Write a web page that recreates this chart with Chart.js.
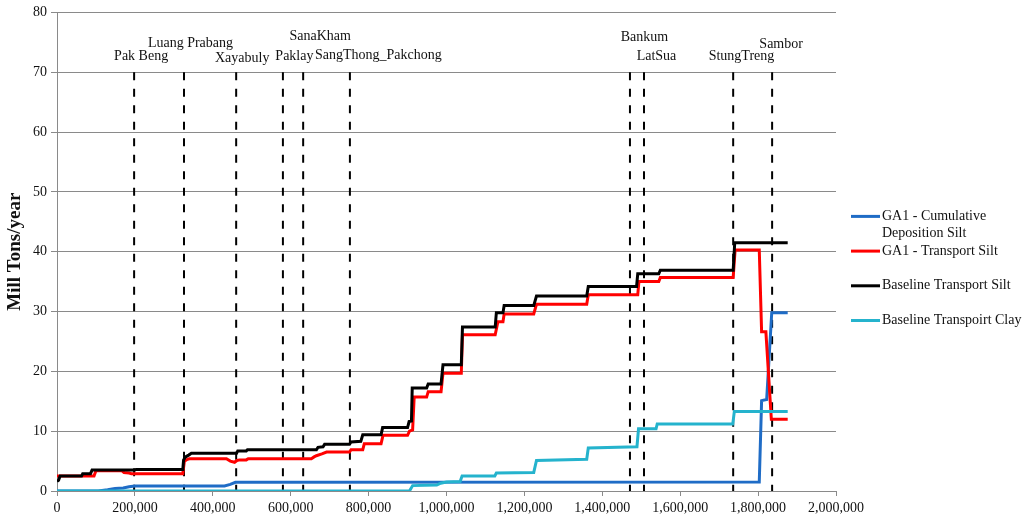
<!DOCTYPE html>
<html>
<head>
<meta charset="utf-8">
<title>Silt and clay transport along the river</title>
<script src="https://cdn.jsdelivr.net/npm/chart.js@4.4.1/dist/chart.umd.min.js"></script>
<style>
  html, body { margin: 0; padding: 0; background: #fff; }
  #wrap { width: 1026px; height: 520px; position: relative; }
</style>
</head>
<body>
<div id="wrap"><canvas id="transportChart"></canvas></div>
<script>
// distances are stored in thousands of axis units
const depositionDist = [0, 106, 130, 149, 170, 185, 200, 430, 445, 458, 1803, 1809, 1822, 1835, 1876];
const depositionVals = [0, 0, 0.2, 0.4, 0.5, 0.7, 0.85, 0.85, 1.1, 1.45, 1.5, 15.1, 15.3, 29.8, 29.8];

const ga1SiltDist = [0, 95, 100, 166, 172, 185, 191, 323, 327, 335, 340, 435, 445, 456, 462, 469, 486, 491, 653, 660,
    666, 680, 692, 751, 755, 785, 789, 832, 837, 900, 905, 913, 917, 949, 953, 986, 991, 1038, 1041, 1125,
    1132, 1145, 1148, 1224, 1231, 1360, 1364, 1491, 1494, 1545, 1549, 1736, 1741, 1803, 1809, 1820, 1834, 1876];
const ga1SiltVals = [2.5, 2.5, 3.4, 3.4, 3.1, 3.0, 2.9, 2.9, 5.0, 5.3, 5.4, 5.4, 5.0, 4.8, 5.1, 5.2, 5.2, 5.4, 5.4, 5.7,
    5.9, 6.2, 6.5, 6.5, 6.9, 6.9, 7.9, 7.9, 9.3, 9.3, 10.0, 10.2, 15.7, 15.7, 16.6, 16.6, 19.7, 19.7, 26.1, 26.1,
    28.3, 28.3, 29.6, 29.6, 31.2, 31.2, 32.8, 32.8, 35.0, 35.0, 35.7, 35.7, 40.3, 40.3, 26.6, 26.6, 12.0, 12.0];

const baseSiltDist = [0, 4, 8, 63, 66, 86, 90, 200, 203, 323, 325, 330, 338, 345, 461, 464, 486, 489, 666, 670,
    683, 687, 751, 755, 780, 785, 832, 836, 900, 904, 910, 912, 949, 953, 986, 991, 1038, 1041, 1125, 1128,
    1145, 1148, 1224, 1231, 1360, 1364, 1488, 1491, 1545, 1549, 1736, 1740, 1876];
const baseSiltVals = [1.6, 1.8, 2.5, 2.5, 2.9, 2.9, 3.5, 3.5, 3.6, 3.6, 5.2, 5.7, 6.0, 6.3, 6.3, 6.7, 6.7, 6.9, 6.9, 7.3,
    7.4, 7.8, 7.8, 8.2, 8.3, 9.4, 9.4, 10.6, 10.6, 11.6, 11.7, 17.2, 17.2, 17.9, 17.9, 21.1, 21.1, 27.4, 27.4, 29.8,
    29.8, 31.0, 31.0, 32.6, 32.6, 34.2, 34.2, 36.3, 36.3, 36.9, 36.9, 41.5, 41.5];

const baseClayDist = [0, 905, 913, 975, 985, 1000, 1035, 1040, 1124, 1128, 1224, 1231, 1360, 1364, 1489, 1493, 1538, 1541, 1735, 1739, 1876];
const baseClayVals = [0, 0, 0.9, 1.0, 1.3, 1.5, 1.6, 2.5, 2.5, 3.0, 3.1, 5.1, 5.3, 7.2, 7.4, 10.4, 10.4, 11.2, 11.2, 13.3, 13.3];

const damNames = ['Pak Beng', 'Luang Prabang', 'Xayabuly', 'Paklay', 'SanaKham', 'SangThong_Pakchong',
    'Bankum', 'LatSua', 'StungTreng', 'Sambor'];
const damDist = [198, 326, 460, 580, 632, 752, 1471, 1507, 1736, 1836];
const damTop = 70;

const xTicks = [0, 200000, 400000, 600000, 800000, 1000000, 1200000, 1400000, 1600000, 1800000, 2000000];

// label placement relative to the top of each dam line, in pixels
const damLabelOffsets = [[7, -16], [6.5, -29], [6, -14], [11.5, -16], [17, -36], [28.5, -16.5],
    [14.5, -35], [12.5, -16], [8.3, -15.5], [9, -28]];

const serif = '"Liberation Serif", "Times New Roman", serif';

function toPoints(dist, vals) {
    return dist.map((d, i) => ({ x: d * 1000, y: vals[i] }));
}

function damPoints() {
    const pts = [];
    damDist.forEach(d => {
        pts.push({ x: d * 1000, y: damTop }, { x: d * 1000, y: 0 }, { x: d * 1000, y: null });
    });
    return pts;
}

const damLabels = {
    id: 'damLabels',
    afterDatasetsDraw(chart) {
        const { ctx, scales: { x, y } } = chart;
        ctx.save();
        ctx.font = '14px ' + serif;
        ctx.textAlign = 'center';
        ctx.textBaseline = 'middle';
        ctx.fillStyle = '#111';
        damNames.forEach((name, i) => {
            const [dx, dy] = damLabelOffsets[i];
            ctx.fillText(name, x.getPixelForValue(damDist[i] * 1000) + dx, y.getPixelForValue(damTop) + dy);
        });
        ctx.restore();
    }
};

// legend on the right, the first entry wraps over two lines
const sideLegend = {
    id: 'sideLegend',
    afterDraw(chart) {
        const { ctx, chartArea } = chart;
        const x0 = chartArea.right + 15;
        let y = chartArea.top + 204;
        ctx.save();
        ctx.font = '14px ' + serif;
        ctx.textBaseline = 'middle';
        ctx.textAlign = 'left';
        chart.data.datasets.forEach(ds => {
            if (!ds.legendText) return;
            ctx.strokeStyle = ds.borderColor;
            ctx.lineWidth = 3;
            ctx.beginPath();
            ctx.moveTo(x0, y);
            ctx.lineTo(x0 + 29, y);
            ctx.stroke();
            ctx.fillStyle = '#111';
            ds.legendText.forEach((line, i) => ctx.fillText(line, x0 + 31, y + i * 17));
            y += 34.7;
        });
        ctx.restore();
    }
};

new Chart(document.getElementById('transportChart'), {
    type: 'line',
    data: {
        datasets: [
            {
                label: 'GA1 - Cumulative Deposition Silt',
                legendText: ['GA1 - Cumulative', 'Deposition Silt'],
                data: toPoints(depositionDist, depositionVals),
                borderColor: '#1f6cc6',
                order: 4
            },
            {
                label: 'GA1 - Transport Silt',
                legendText: ['GA1 - Transport Silt'],
                data: toPoints(ga1SiltDist, ga1SiltVals),
                borderColor: '#ff0000',
                order: 3
            },
            {
                label: 'Baseline Transport Silt',
                legendText: ['Baseline Transport Silt'],
                data: toPoints(baseSiltDist, baseSiltVals),
                borderColor: '#000000',
                order: 2
            },
            {
                label: 'Baseline Transpoirt Clay',
                legendText: ['Baseline Transpoirt Clay'],
                data: toPoints(baseClayDist, baseClayVals),
                borderColor: '#25b3cd',
                order: 1
            },
            {
                label: 'Dams',
                data: damPoints(),
                borderColor: '#000000',
                borderWidth: 2,
                borderDash: [8, 8.5],
                spanGaps: false,
                order: 10
            }
        ]
    },
    options: {
        responsive: true,
        maintainAspectRatio: false,
        animation: false,
        layout: { padding: { left: 0, right: 190, top: 10, bottom: 0 } },
        elements: {
            line: { borderWidth: 3, tension: 0, fill: false },
            point: { radius: 0, hoverRadius: 0 }
        },
        plugins: {
            legend: { display: false },
            tooltip: { enabled: false }
        },
        scales: {
            x: {
                type: 'linear',
                min: 0,
                max: 2000000,
                afterBuildTicks: scale => { scale.ticks = xTicks.map(v => ({ value: v })); },
                afterFit: scale => { scale.height = 29; },
                grid: { drawOnChartArea: false, drawTicks: true, tickLength: 5, color: '#8a8a8a' },
                border: { color: '#8a8a8a' },
                ticks: {
                    padding: 4,
                    maxRotation: 0,
                    color: '#111',
                    font: { family: serif, size: 14 },
                    callback: v => v.toLocaleString('en-US')
                }
            },
            y: {
                min: 0,
                max: 80,
                afterFit: scale => { scale.width = 57; },
                grid: { color: '#8a8a8a', tickLength: 6 },
                border: { color: '#8a8a8a' },
                ticks: {
                    stepSize: 10,
                    padding: 4,
                    color: '#111',
                    font: { family: serif, size: 14 }
                },
                title: {
                    display: true,
                    text: 'Mill Tons/year',
                    color: '#111',
                    padding: { top: 4, bottom: 4 },
                    font: { family: serif, size: 19, weight: 'bold' }
                }
            }
        }
    },
    plugins: [damLabels, sideLegend]
});
</script>
</body>
</html>
